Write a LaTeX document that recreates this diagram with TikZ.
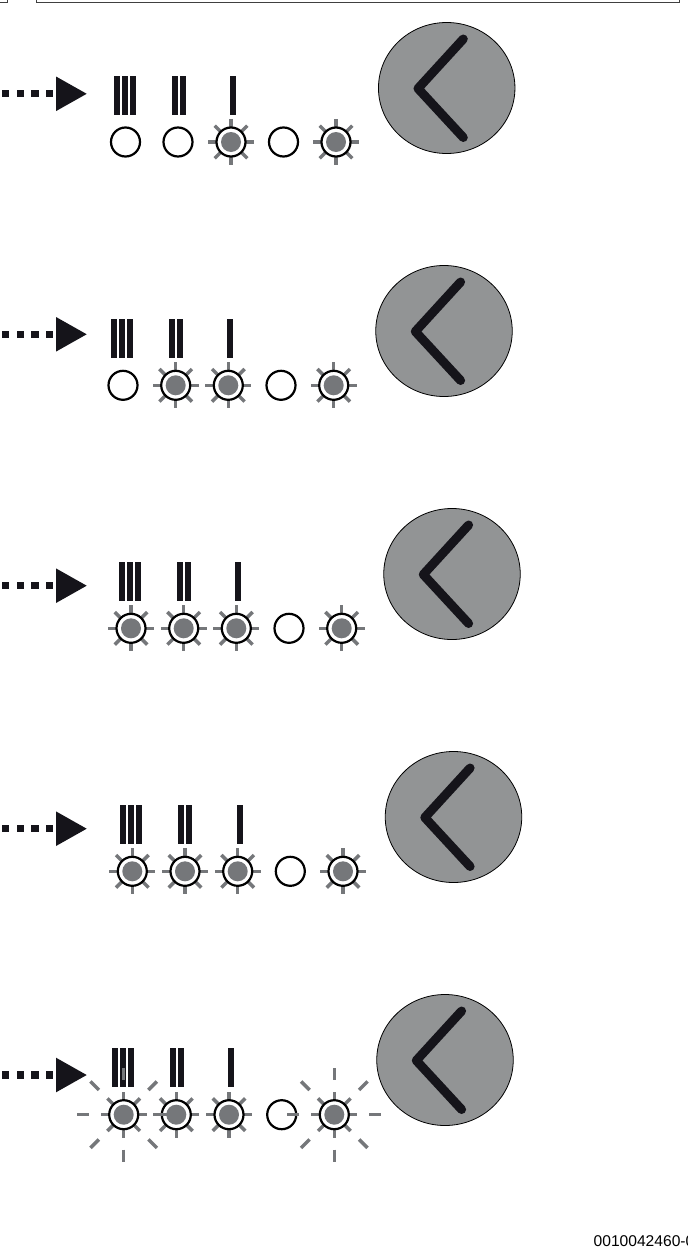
\documentclass[tikz,border=0pt]{standalone}
\usepackage{fontspec}
\setmainfont{Liberation Sans}
\usetikzlibrary{shapes.geometric}
\definecolor{ink}{HTML}{15141A}
\definecolor{ray}{HTML}{75777A}
\definecolor{disc}{HTML}{929495}
\tikzset{
  frameline/.style={draw=black!75,line width=0.9pt},
  barmark/.style={fill=ink,draw=none},
  led/.style={circle,draw=black,line width=2.2pt,fill=white,minimum size=29pt,inner sep=0pt},
  raymark/.style={draw=ray,line width=3.5pt},
  dotmark/.style={circle,fill=ray,draw=none,minimum size=20pt,inner sep=0pt},
  bigdisc/.style={ellipse,draw=black,line width=0.8pt,fill=disc,minimum width=136.5pt,minimum height=131pt,inner sep=0pt},
  chev/.style={draw=ink,line width=9pt,line cap=round,line join=round},
  sq/.style={fill=ink,draw=none},
}
\newcommand{\bars}[3]{%
  \begin{scope}[shift={(#1,#2)}]
    \fill[barmark] (114,76) rectangle (120,115);
    \fill[barmark] (122,76) rectangle (128,115);
    \fill[barmark] (130,76) rectangle (136,115);
    \fill[barmark] (172,76) rectangle (178,115);
    \fill[barmark] (180,76) rectangle (186,115);
    \fill[barmark] (#3,76) rectangle ++(6,39);
  \end{scope}}
\newcommand{\arrowmark}[1]{%
  \begin{scope}[shift={(0,#1)}]
    \foreach \xx in {2,16.7,31.3,46}{\fill[sq] (\xx,-3.6) rectangle +(7.2,7.2);}
    \fill[ink] (56,-17.3) -- (86.7,0) -- (56,17.3) -- cycle;
  \end{scope}}
\newcommand{\offled}[3]{\node[led] (#1) at (#2,#3) {};}
\newcommand{\onled}[3]{%
  \foreach \aa in {0,45,...,315}{\draw[raymark] (#2,#3) ++(\aa:14.5) -- ++(\aa:8.5);}
  \node[led] (#1) at (#2,#3) {};
  \node[dotmark] (#1d) at (#2,#3) {};}
\newcommand{\farrays}[2]{%
  \foreach \aa in {0,45,...,315}{\draw[raymark] (#1,#2) ++(\aa:35) -- ++(\aa:12);}}
\newcommand{\panel}[3]{%
  \node[bigdisc] (#1) at (#2,#3) {};
  \draw[chev] ([shift={(16.6,-49)}]#1.center) -- ([shift={(-28.7,0.5)}]#1.center) -- ([shift={(16.6,49.5)}]#1.center);}
\begin{document}
\begin{tikzpicture}[x=1pt,y=-1pt]
\useasboundingbox (0,0) rectangle (688,1253);
\fill[white] (0,0) rectangle (688,1253);
% top frames
\draw[frameline] (-2,-5) -- (-2,2) -- (7,2) -- (7,-5);
\draw[frameline] (36,-5) -- (36,2) -- (679,2) -- (679,-5);
% row 1
\arrowmark{93.8}\bars{0}{0}{230}
\offled{a1}{125.5}{142}\offled{a2}{178}{142}\onled{a3}{231}{142}\offled{a4}{283.5}{142}\onled{a5}{336}{142}
\panel{pa}{446.7}{88}
% row 2
\arrowmark{334.3}\bars{-3}{243}{230}
\offled{b1}{123}{385.3}\onled{b2}{175.7}{385.3}\onled{b3}{228.3}{385.3}\offled{b4}{281}{385.3}\onled{b5}{333.7}{385.3}
\panel{pb}{444}{331}
% row 3
\arrowmark{585.7}\bars{5}{486}{230}
\onled{c1}{131}{628.3}\onled{c2}{183.7}{628.3}\onled{c3}{236.3}{628.3}\offled{c4}{289}{628.3}\onled{c5}{341.7}{628.3}
\panel{pc}{452}{574}
% row 4
\arrowmark{828.7}\bars{6}{729}{231}
\onled{d1}{132.3}{871.3}\onled{d2}{185}{871.3}\onled{d3}{237.7}{871.3}\offled{d4}{290.3}{871.3}\onled{d5}{343}{871.3}
\panel{pd}{453.5}{817}
% row 5
\arrowmark{1075}\bars{-2}{972}{230}
\onled{e1}{123.7}{1114.7}\onled{e2}{176.3}{1114.7}\onled{e3}{229}{1114.7}\offled{e4}{281.7}{1114.7}\onled{e5}{334.3}{1114.7}
\farrays{123.7}{1114.7}\farrays{334.3}{1114.7}
\panel{pe}{445}{1060}
\node[anchor=base west,font=\fontsize{15.6}{18}\selectfont,inner sep=0pt] (code) at (593.5,1246) {0010042460-0};
\end{tikzpicture}
\end{document}
